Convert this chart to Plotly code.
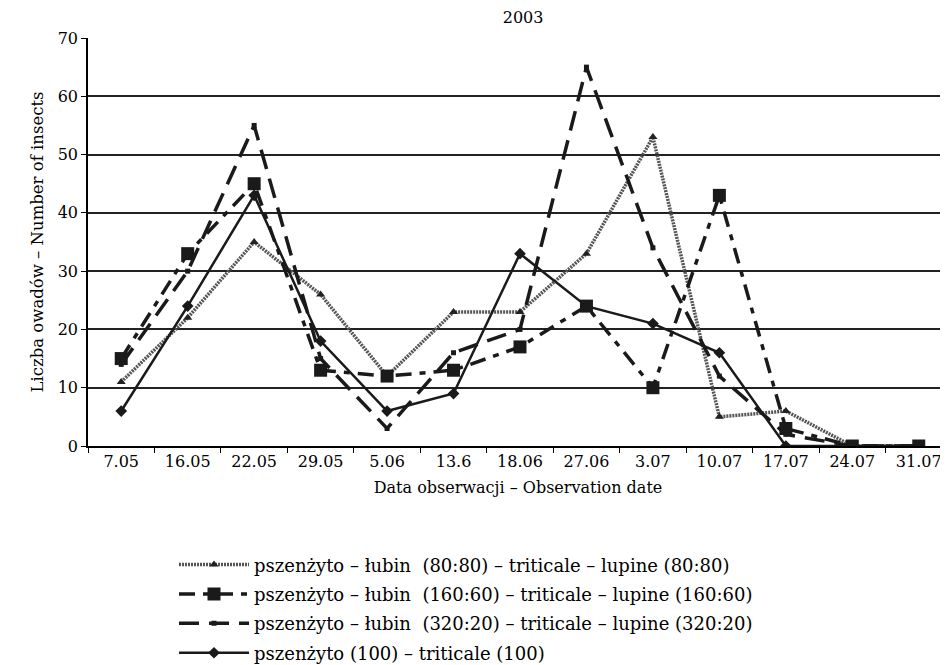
import plotly.graph_objects as go

dates = ["7.05", "16.05", "22.05", "29.05", "5.06", "13.6", "18.06", "27.06",
         "3.07", "10.07", "17.07", "24.07", "31.07"]
s_80_80 = [11, 22, 35, 26, 12, 23, 23, 33, 53, 5, 6, 0, 0]
s_160_60 = [15, 33, 45, 13, 12, 13, 17, 24, 10, 43, 3, 0, 0]
s_320_20 = [14, 30, 55, 15, 3, 16, 20, 65, 34, 12, 2, 0, 0]
s_100 = [6, 24, 43, 18, 6, 9, 33, 24, 21, 16, 0, 0, 0]

names = [
    "pszenżyto – łubin  (80:80) – triticale – lupine (80:80)",
    "pszenżyto – łubin  (160:60) – triticale – lupine (160:60)",
    "pszenżyto – łubin  (320:20) – triticale – lupine (320:20)",
    "pszenżyto (100) – triticale (100)",
]

FONT = "DejaVu Serif"
fig = go.Figure()

fig.add_trace(go.Scatter(
    x=dates, y=s_80_80, name=names[0], mode="lines+markers", legendgroup="a",
    line=dict(color="#555555", width=3.5, dash="2px,1px"),
    marker=dict(symbol="triangle-up", size=8, color="#222222"),
))
fig.add_trace(go.Scatter(
    x=dates, y=s_160_60, name=names[1], mode="lines+markers", legendgroup="b",
    line=dict(color="#1a1a1a", width=3.5, dash="16px,8px,6px,8px"),
    marker=dict(symbol="square", size=13, color="#1a1a1a"),
))
fig.add_trace(go.Scatter(
    x=dates, y=s_320_20, name=names[2], mode="lines+markers", legendgroup="c",
    line=dict(color="#1a1a1a", width=3.5, dash="20px,10px"),
    marker=dict(symbol="square", size=5, color="#1a1a1a"),
))
fig.add_trace(go.Scatter(
    x=dates, y=s_100, name=names[3], mode="lines+markers", legendgroup="d",
    line=dict(color="#1a1a1a", width=2.5),
    marker=dict(symbol="diamond", size=9, color="#1a1a1a"),
))

fig.update_layout(
    width=940, height=657,
    margin=dict(l=80, r=0, t=30, b=219, autoexpand=False),
    paper_bgcolor="white", plot_bgcolor="white",
    font=dict(family=FONT, size=16, color="black"),
    title=dict(text="2003", x=0.548, xanchor="center", y=0.986, yanchor="middle",
               font=dict(family=FONT, size=16, color="black")),
    showlegend=True,
    legend=dict(
        x=0.1, xanchor="left", y=-0.246, yanchor="top",
        itemwidth=70, tracegroupgap=3,
        font=dict(family=FONT, size=18, color="black"),
        bgcolor="rgba(0,0,0,0)",
    ),
    xaxis=dict(
        type="category", range=[-0.5, 12.44], automargin=False,
        tickson="boundaries", ticks="outside", ticklen=5, tickcolor="black",
        showline=True, linecolor="black", linewidth=1.5, showgrid=False,
        tickfont=dict(family=FONT, size=16, color="black"),
        title=dict(text="Data obserwacji – Observation date", standoff=12,
                   font=dict(family=FONT, size=16, color="black")),
    ),
    yaxis=dict(
        range=[0, 70], dtick=10, tick0=0, automargin=False,
        ticks="outside", ticklen=5, tickcolor="black",
        showline=True, linecolor="black", linewidth=1.5,
        showgrid=True, gridcolor="#222222", gridwidth=1.5,
        zeroline=False,
        tickfont=dict(family=FONT, size=16, color="black"),
        title=dict(text="Liczba owadów – Number of insects", standoff=10,
                   font=dict(family=FONT, size=16.5, color="black")),
    ),
)

fig.write_html("out.html")
